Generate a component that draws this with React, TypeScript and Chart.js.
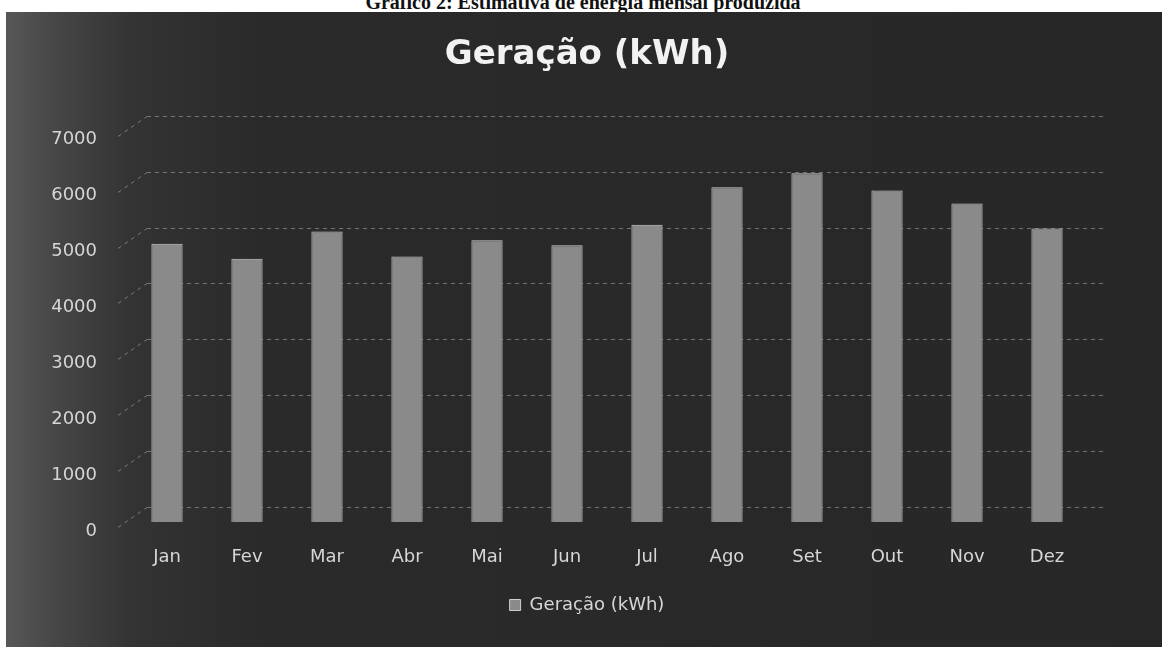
import React, { useEffect, useRef } from "react";
import { Chart, registerables } from "chart.js";

Chart.register(...registerables);

const caption = "Gráfico 2: Estimativa de energia mensal produzida";
const chartTitle = "Geração (kWh)";
const seriesLabel = "Geração (kWh)";
const months = ["Jan", "Fev", "Mar", "Abr", "Mai", "Jun", "Jul", "Ago", "Set", "Out", "Nov", "Dez"];
const geracao = [4980, 4710, 5200, 4750, 5040, 4950, 5320, 5990, 6240, 5930, 5700, 5250];
const yMin = 0;
const yMax = 7000;
const yStep = 1000;

export default function App() {
  const ref = useRef<HTMLCanvasElement>(null);

  useEffect(() => {
    if (!ref.current) return;
    const depth = { dx: 20, dy: -15 };
    const wall3d = {
      id: "wall3d",
      beforeDatasetsDraw(chart: any) {
        const { ctx, chartArea, scales } = chart;
        const ys = scales.y;
        ctx.save();
        ctx.strokeStyle = "rgba(205,205,205,0.45)";
        ctx.lineWidth = 1;
        ctx.setLineDash([4, 4]);
        ys.ticks.forEach((t: any) => {
          const py = Math.round(ys.getPixelForValue(t.value)) + 0.5;
          ctx.beginPath();
          ctx.moveTo(chartArea.left + depth.dx, py + depth.dy);
          ctx.lineTo(chartArea.right + depth.dx, py + depth.dy);
          ctx.stroke();
          ctx.beginPath();
          ctx.moveTo(chartArea.left - 9, py + 5);
          ctx.lineTo(chartArea.left + depth.dx, py + depth.dy);
          ctx.stroke();
        });
        ctx.restore();
      },
    };

    const chart = new Chart(ref.current, {
      type: "bar",
      data: {
        labels: months,
        datasets: [
          {
            label: seriesLabel,
            data: geracao,
            backgroundColor: "#8a8a8a",
            borderColor: "#cdcdcd",
            borderWidth: 1,
            categoryPercentage: 1,
            barPercentage: 0.39,
            yAxisID: "y",
          },
        ],
      },
      options: {
        responsive: false,
        maintainAspectRatio: false,
        devicePixelRatio: 1,
        animation: false,
        layout: { padding: { left: 40, right: 28, top: 0, bottom: 23 } },
        plugins: {
          title: {
            display: true,
            text: chartTitle,
            color: "#f2f2f2",
            font: { family: "DejaVu Sans", size: 34, weight: "bold", lineHeight: 1.2 },
            padding: { top: 35, bottom: 55 },
          },
          legend: {
            display: true,
            position: "bottom",
            labels: {
              color: "#d6d6d6",
              font: { family: "DejaVu Sans", size: 18 },
              boxWidth: 11,
              boxHeight: 11,
              padding: 2.4,
            },
          },
          tooltip: { enabled: false },
        },
        scales: {
          x: {
            grid: { display: false, drawTicks: false },
            border: { display: false },
            ticks: {
              color: "#d6d6d6",
              font: { family: "DejaVu Sans", size: 18 },
              padding: 25,
            },
          },
          y: {
            position: "left",
            min: yMin,
            max: yMax,
            grid: { display: false, drawTicks: false },
            border: { display: false },
            ticks: {
              stepSize: yStep,
              color: "#d6d6d6",
              font: { family: "DejaVu Sans", size: 18 },
              padding: 30,
              labelOffset: 9,
              callback: (v: any) => String(v),
            },
            afterFit: (scale: any) => {
              scale.width = 87;
            },
          },
          yRight: {
            type: "linear",
            position: "right",
            display: true,
            min: yMin,
            max: yMax,
            grid: { display: false, drawTicks: false },
            border: { display: false },
            ticks: { display: false },
            afterFit: (scale: any) => {
              scale.width = 47;
            },
          },
        },
      },
      plugins: [wall3d],
    });
    return () => chart.destroy();
  }, []);

  return (
    <div
      style={{
        position: "fixed",
        top: 0,
        left: 0,
        width: 1162,
        height: 647,
        overflow: "hidden",
        background: "#ffffff",
      }}
    >
      <div
        style={{
          position: "absolute",
          top: -8,
          left: 0,
          width: 1162,
          textAlign: "center",
          fontFamily: "'Liberation Serif', serif",
          fontWeight: "bold",
          fontSize: 20,
          lineHeight: "20px",
          color: "#111",
          paddingLeft: 4,
          boxSizing: "border-box",
        }}
      >
        {caption}
      </div>
      <div
        style={{
          position: "absolute",
          top: 12,
          left: 6,
          right: 0,
          bottom: 0,
          background:
            "linear-gradient(to right, #575757 0%, #444444 5%, #333333 11%, #2a2a2a 22%, #272727 100%)",
        }}
      />
      <canvas
        ref={ref}
        width={1162}
        height={647}
        style={{ position: "absolute", top: 0, left: 0, width: 1162, height: 647, display: "block" }}
      />
    </div>
  );
}
